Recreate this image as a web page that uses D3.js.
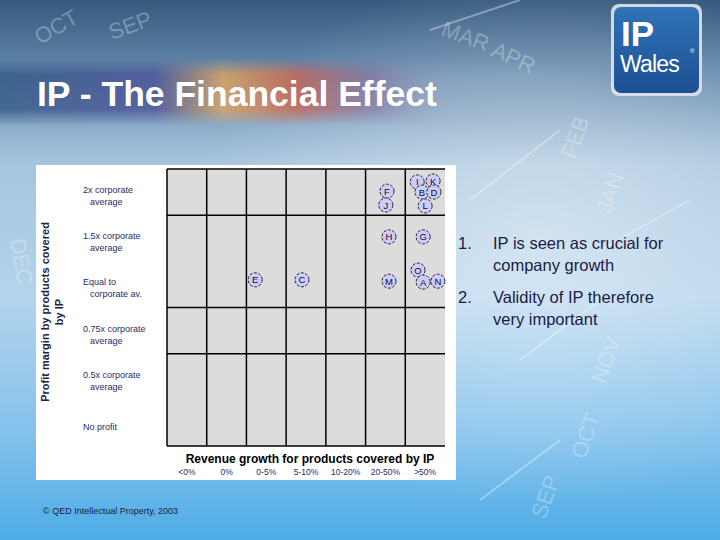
<!DOCTYPE html>
<html><head><meta charset="utf-8">
<script src="https://cdn.jsdelivr.net/npm/d3@7"></script>
<style>html,body{margin:0;padding:0;background:#fff}svg{display:block}</style>
</head><body>
<script>
// ---- data ----
const xCategories = ["<0%", "0%", "0-5%", "5-10%", "10-20%", "20-50%", ">50%"];
const yCategories = [
  ["2x corporate", "average"],
  ["1.5x corporate", "average"],
  ["Equal to", "corporate av."],
  ["0.75x corporate", "average"],
  ["0.5x corporate", "average"],
  ["No profit"]
];
const rowDividers = [1, 3, 4];           // horizontal grid lines sit before these rows
const companies   = ["F", "J", "H", "M", "I", "K", "B", "D", "L", "G", "O", "A", "N", "E", "C"];
const growthPos   = [5.54, 5.51, 5.59, 5.59, 6.30, 6.70, 6.42, 6.72, 6.50, 6.45, 6.32, 6.45, 6.82, 2.22, 3.40];
const marginPos   = [0.48, 0.78, 1.47, 2.43, 0.28, 0.26, 0.50, 0.50, 0.80, 1.47, 2.19, 2.45, 2.43, 2.40, 2.40];
const bullets     = [["1.", ["IP is seen as crucial for", "company growth"]],
                     ["2.", ["Validity of IP therefore", "very important"]]];
const months      = ["OCT", "SEP", "MAR", "APR", "JAN", "FEB", "NOV", "OCT", "SEP", "DEC"];

const W = 720, H = 540;
const svg = d3.select("body").append("svg").attr("width", W).attr("height", H);
const defs = svg.append("defs");

// ---- slide background ----
const bg = defs.append("linearGradient").attr("id", "bg").attr("x1", 0).attr("y1", 0).attr("x2", 0).attr("y2", 1);
[[0, "#365a7e"], [0.12, "#5f84a8"], [0.3, "#a6c4dd"], [0.55, "#b4d4ec"], [0.8, "#84c2ec"], [1, "#4eace6"]]
  .forEach(([o, c]) => bg.append("stop").attr("offset", o).attr("stop-color", c));
svg.append("rect").attr("width", W).attr("height", H).attr("fill", "url(#bg)");

const glow = defs.append("radialGradient").attr("id", "glow").attr("cx", 0.75).attr("cy", 0.45).attr("r", 0.5);
glow.append("stop").attr("offset", 0).attr("stop-color", "#ffffff").attr("stop-opacity", 0.45);
glow.append("stop").attr("offset", 1).attr("stop-color", "#ffffff").attr("stop-opacity", 0);
svg.append("rect").attr("width", W).attr("height", H).attr("fill", "url(#glow)");

const band = defs.append("linearGradient").attr("id", "band").attr("x1", 0).attr("y1", 0).attr("x2", 1).attr("y2", 0);
[[0, "#2f5684", 0.75], [0.25, "#4b4f96", 0.75], [0.36, "#e0a85c", 0.8], [0.48, "#d0604a", 0.75],
 [0.6, "#8a6a9a", 0.55], [0.72, "#9ab0c8", 0.2], [1, "#c0d4e4", 0]]
  .forEach(([o, c, op]) => band.append("stop").attr("offset", o).attr("stop-color", c).attr("stop-opacity", op));
const fade = defs.append("linearGradient").attr("id", "fade").attr("x1", 0).attr("y1", 0).attr("x2", 0).attr("y2", 1);
[[0, 0], [0.25, 1], [0.75, 1], [1, 0]].forEach(([o, op]) =>
  fade.append("stop").attr("offset", o).attr("stop-color", "#fff").attr("stop-opacity", op));
defs.append("mask").attr("id", "bandMask").attr("maskUnits", "userSpaceOnUse")
  .append("rect").attr("x", 0).attr("y", 58).attr("width", 620).attr("height", 68).attr("fill", "url(#fade)");
svg.append("rect").attr("x", 0).attr("y", 58).attr("width", 620).attr("height", 68)
  .attr("fill", "url(#band)").attr("mask", "url(#bandMask)");

// faint decorative streaks
const deco = svg.append("g").attr("stroke", "#ffffff").attr("stroke-opacity", 0.35).attr("stroke-width", 2);
[[470, 200, 560, 130], [520, 360, 600, 300], [480, 500, 560, 440], [600, 250, 690, 200], [430, 30, 520, 0]]
  .forEach(d => deco.append("line").attr("x1", d[0]).attr("y1", d[1]).attr("x2", d[2]).attr("y2", d[3]));
const mpos = [[40, 45, -30], [112, 40, -20], [440, 35, 20], [490, 55, 25], [610, 215, -70], [575, 160, -70],
              [605, 385, -70], [585, 460, -70], [545, 520, -70], [10, 240, 80]];
svg.append("g").selectAll("text").data(months).join("text")
  .attr("transform", (d, i) => `translate(${mpos[i][0]},${mpos[i][1]}) rotate(${mpos[i][2]})`)
  .attr("font-family", "Liberation Sans, Arial, sans-serif").attr("font-size", 22)
  .attr("fill", "#ffffff").attr("fill-opacity", 0.3).text(d => d);

// ---- logo ----
const logoG = defs.append("linearGradient").attr("id", "logo").attr("x1", 0).attr("y1", 0).attr("x2", 0).attr("y2", 1);
logoG.append("stop").attr("offset", 0).attr("stop-color", "#2f73b8");
logoG.append("stop").attr("offset", 1).attr("stop-color", "#1d4f93");
svg.append("rect").attr("x", 611).attr("y", 4).attr("width", 91).attr("height", 92).attr("rx", 8)
  .attr("fill", "#dfe6ea").attr("opacity", 0.9);
svg.append("rect").attr("x", 614).attr("y", 7).attr("width", 85).attr("height", 86).attr("rx", 7)
  .attr("fill", "url(#logo)");
svg.append("text").attr("x", 621).attr("y", 46).attr("font-family", "Liberation Sans, Arial, sans-serif")
  .attr("font-weight", "bold").attr("font-size", 35).attr("fill", "#fff").text("IP");
svg.append("text").attr("x", 620).attr("y", 72).attr("font-family", "Liberation Sans, Arial, sans-serif")
  .attr("font-size", 23).attr("fill", "#fff").attr("letter-spacing", -0.8).text("Wales");
svg.append("text").attr("x", 690).attr("y", 53).attr("font-family", "Liberation Sans, Arial, sans-serif")
  .attr("font-size", 6).attr("fill", "#fff").text("®");

// ---- title ----
svg.append("text").attr("x", 37).attr("y", 106).attr("font-family", "Liberation Sans, Arial, sans-serif")
  .attr("font-weight", "bold").attr("font-size", 35.5).attr("fill", "#ffffff").text("IP - The Financial Effect");

// ---- chart panel ----
svg.append("rect").attr("x", 36).attr("y", 165).attr("width", 420).attr("height", 315).attr("fill", "#ffffff");

const x = d3.scaleLinear().domain([0, xCategories.length]).range([167, 445]);
const y = d3.scaleLinear().domain([0, yCategories.length]).range([169, 446]);

svg.append("rect").attr("x", x(0)).attr("y", y(0)).attr("width", x(7) - x(0)).attr("height", y(6) - y(0))
  .attr("fill", "#dcdcdc");

const grid = svg.append("g").attr("stroke", "#000").attr("stroke-width", 1.5);
d3.range(0, xCategories.length).forEach(i =>
  grid.append("line").attr("x1", x(i)).attr("x2", x(i)).attr("y1", y(0)).attr("y2", y(6)));
[0, ...rowDividers, yCategories.length].forEach(i =>
  grid.append("line").attr("x1", x(0)).attr("x2", x(7)).attr("y1", y(i)).attr("y2", y(i)));

// y category labels
const yl = svg.append("g").attr("font-family", "Liberation Sans, Arial, sans-serif").attr("font-size", 9)
  .attr("fill", "#2b2b66");
yCategories.forEach((lines, i) => {
  const cy = y(i + 0.5) + 4;
  const t = yl.append("text");
  lines.forEach((s, j) => t.append("tspan").attr("x", j === 0 ? 83 : 90)
    .attr("y", cy + (j - (lines.length - 1) / 2) * 12 + 3).text(s));
});

// y axis title
const yt = svg.append("text").attr("transform", "translate(0,312) rotate(-90)")
  .attr("font-family", "Liberation Sans, Arial, sans-serif").attr("font-weight", "bold")
  .attr("font-size", 11).attr("fill", "#222244").attr("text-anchor", "middle");
yt.append("tspan").attr("x", 0).attr("y", 49).text("Profit margin by products covered");
yt.append("tspan").attr("x", 0).attr("y", 63).text("by IP");

// x axis title & labels
svg.append("text").attr("x", 310).attr("y", 463).attr("text-anchor", "middle")
  .attr("font-family", "Liberation Sans, Arial, sans-serif").attr("font-weight", "bold")
  .attr("font-size", 12).attr("fill", "#000").text("Revenue growth for products covered by IP");
svg.append("g").selectAll("text").data(xCategories).join("text")
  .attr("x", (d, i) => x(i + 0.5)).attr("y", 475).attr("text-anchor", "middle")
  .attr("font-family", "Liberation Sans, Arial, sans-serif").attr("font-size", 8.5)
  .attr("fill", "#2b2b66").text(d => d);

// company markers
const pts = svg.append("g").selectAll("g").data(companies).join("g")
  .attr("transform", (d, i) => `translate(${x(growthPos[i])},${y(marginPos[i])})`);
pts.append("circle").attr("r", 7).attr("fill", "#ccccff").attr("stroke", "#222")
  .attr("stroke-width", 1).attr("stroke-dasharray", "3,1.5");
pts.append("text").attr("y", 3.5).attr("text-anchor", "middle")
  .attr("font-family", "Liberation Sans, Arial, sans-serif").attr("font-size", 9.5).attr("fill", "#111")
  .text(d => d);

// ---- bullet text ----
const bt = svg.append("g").attr("font-family", "Liberation Sans, Arial, sans-serif").attr("font-size", 16.5)
  .attr("fill", "#1b1b44");
bullets.forEach(([n, lines], i) => {
  const by = 249 + i * 54;
  bt.append("text").attr("x", 458).attr("y", by).text(n);
  lines.forEach((s, j) => bt.append("text").attr("x", 493).attr("y", by + j * 22).text(s));
});

// ---- copyright ----
svg.append("text").attr("x", 43).attr("y", 514).attr("font-family", "Liberation Sans, Arial, sans-serif")
  .attr("font-size", 9).attr("fill", "#1b1b44").text("© QED Intellectual Property, 2003");
</script>
</body></html>
